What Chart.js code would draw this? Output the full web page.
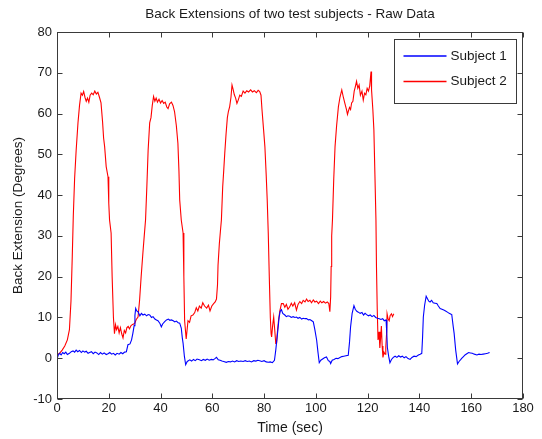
<!DOCTYPE html>
<html>
<head>
<meta charset="utf-8">
<script src="https://cdn.jsdelivr.net/npm/chart.js@4.4.1/dist/chart.umd.min.js"></script>
<style>
  body { margin: 0; background: #fff; }
  canvas { display: block; }
</style>
</head>
<body>
<canvas id="backChart" width="542" height="439"></canvas>
<script>
// Subject 1 (blue) - time in sec, extension in degrees
const time1 = [0, 0.5, 1, 1.6, 2.2, 2.8, 3.4, 4, 4.8, 5.5, 6.2, 6.8, 7.4, 8, 8.7, 9.4, 10, 10.7, 11.3, 12, 12.6, 13.3, 14, 14.7, 15.4, 16.1, 16.8, 17.5, 18.2, 19, 19.7, 20.4, 21.1, 21.8, 22.5, 23.2, 24, 24.7, 25.4, 26.1, 26.8, 27.4, 28.2, 28.8, 29.3, 29.8, 30.1, 30.4, 30.8, 31.3, 32, 32.6, 33.2, 33.9, 34.6, 35.2, 35.8, 36.5, 37.1, 37.8, 38.4, 39, 39.7, 40.3, 40.8, 41.6, 42.3, 43, 43.6, 44.2, 44.9, 45.5, 46.1, 46.8, 47.4, 48, 48.4, 48.7, 49.2, 49.7, 50.3, 51.3, 52, 52.7, 53.4, 54.1, 55, 55.8, 56.5, 57.3, 58, 58.8, 59.6, 60.3, 61, 61.6, 62.3, 63, 63.7, 64.4, 65.4, 66.2, 67, 67.8, 68.6, 69.4, 70.2, 71, 71.9, 72.7, 73.5, 74.3, 75.1, 76, 76.8, 77.6, 78.3, 79.1, 80, 80.8, 81.6, 82.4, 83.2, 84, 84.5, 85, 85.4, 85.8, 86.2, 86.7, 87.2, 88, 88.6, 89.2, 89.9, 90.5, 91.2, 91.9, 92.5, 93.1, 93.8, 94.5, 95.1, 95.8, 96.4, 97.1, 97.7, 98.4, 99, 99.6, 100.3, 100.8, 101.3, 101.9, 102.6, 103.3, 104.1, 104.8, 105.4, 105.7, 106.3, 107, 107.8, 108.5, 109.3, 110, 110.8, 111.6, 112.5, 113, 113.4, 114, 114.7, 115.2, 115.8, 116.4, 117.1, 117.8, 118.4, 119, 119.6, 120.3, 121, 121.7, 122.4, 123.1, 123.8, 124.5, 125.1, 125.8, 126.4, 127.1, 127.4, 127.6, 128.1, 128.6, 129.2, 129.9, 130.6, 131.3, 132, 132.7, 133.4, 134.1, 134.8, 135.6, 136.4, 137.1, 137.9, 138.7, 139.6, 140.3, 140.9, 141.2, 141.5, 142, 142.6, 143.1, 143.6, 144.1, 144.7, 145.3, 146, 146.7, 147.3, 148, 148.7, 149.4, 150.1, 150.8, 151.5, 152.2, 152.5, 153, 153.4, 154, 154.7, 155.3, 156, 156.4, 157, 157.6, 158.3, 159, 159.7, 160.4, 161.2, 162.2, 163, 163.8, 164.6, 165.5, 166.3, 167.1];
const ext1 = [-0.2, 0.8, 1.2, 0.8, 1.4, 1.1, 1.5, 0.9, 1.2, 1.6, 1.8, 1.5, 2, 1.6, 1.9, 1.4, 1.8, 1.5, 1.7, 1.2, 1.4, 1.6, 1.1, 1.5, 1.3, 0.9, 1.4, 1, 1.3, 0.9, 1.1, 1.4, 1, 1.2, 0.8, 1.2, 1, 1.4, 1.1, 1.5, 1.6, 3.3, 3.5, 4.5, 6.1, 8, 10.5, 12.2, 11.6, 11.4, 10.4, 11, 10.6, 10.8, 10.4, 10.7, 10.6, 10, 10.2, 9.6, 9.4, 9.2, 8.6, 7.7, 8.4, 9, 9.4, 9.6, 9.3, 9.4, 9.2, 8.9, 9.1, 8.7, 8.6, 7.4, 5, 3.7, 0.5, -1.6, -0.8, -0.4, -0.7, -0.3, -0.6, -0.2, -0.4, -0.6, -0.3, -0.5, -0.2, -0.5, -0.3, -0.4, -0.1, 0.2, -0.4, -0.5, -0.7, -0.8, -1, -0.8, -0.9, -0.7, -0.9, -0.6, -0.8, -0.7, -0.8, -0.6, -0.8, -0.7, -0.9, -0.6, -0.7, -0.5, -0.6, -0.8, -0.6, -0.9, -1, -0.9, -1.1, -0.5, 2, 5, 7.4, 10, 11.5, 11.9, 11, 10.6, 10.2, 10.4, 10.3, 10, 10.2, 10, 10.1, 9.8, 10, 9.6, 9.8, 9.7, 9.7, 9.4, 9.5, 9.2, 8.9, 7, 4.4, 1.5, -1.1, -0.5, -0.2, 0.1, 0.3, -0.6, -0.8, -1.3, -0.5, -0.3, 0, -0.1, 0.2, 0.4, 0.5, 0.6, 0.7, 4, 7.7, 11, 12.9, 12, 11.5, 11.3, 11, 11.2, 10.6, 11, 10.7, 10.4, 10.6, 10.2, 10.5, 10, 9.8, 9.7, 9.5, 9.7, 9.2, 9.4, 6, 2.7, 0.5, -1.1, -0.3, 0.2, 0.5, 0.2, 0.6, 0.3, 0.5, 0.1, 0.4, -0.1, -0.3, 0.2, 0.5, 0.4, 0.8, 1, 1.2, 5, 10.1, 13, 15.2, 14.6, 14, 13.8, 14.2, 13.6, 13.5, 13.4, 12.8, 12.2, 12, 11.8, 11.6, 11.3, 11, 10.8, 10.6, 8, 6.1, 2, -1.4, -0.8, -0.3, 0, 0.4, 0.8, 1.1, 1.4, 1.3, 1.2, 1, 0.8, 1, 0.9, 1, 1.1, 1.2, 1.4];

// Subject 2 (red)
const time2 = [0, 1, 2, 3, 4, 4.8, 5.4, 5.9, 6.3, 6.8, 7.4, 8.1, 8.7, 9.3, 9.8, 10.3, 10.8, 11.3, 11.8, 12.3, 12.8, 13.4, 14, 14.6, 15.2, 15.8, 16.4, 17, 17.6, 18, 18.4, 19, 19.7, 20, 20.3, 20.9, 21.3, 21.8, 22.2, 22.6, 23, 23.5, 24, 24.5, 25, 25.5, 26, 26.5, 27, 27.5, 28, 28.6, 29.2, 30, 30.6, 31.3, 31.9, 32.5, 33.2, 33.7, 34.2, 34.7, 35.2, 35.8, 36.3, 36.8, 37.3, 37.8, 38.3, 38.8, 39.4, 40, 40.6, 41.2, 41.8, 42.4, 42.9, 43.5, 44.2, 44.8, 45.4, 46.1, 46.7, 47.1, 47.4, 48, 48.7, 49, 49.3, 49.9, 50.6, 51.2, 51.8, 52.5, 53.2, 53.8, 54.4, 55, 55.7, 56.3, 57, 57.8, 58.5, 59.1, 59.8, 60.5, 61.1, 61.6, 62, 62.2, 62.7, 63.1, 63.5, 64, 64.4, 64.8, 65.3, 65.8, 66.2, 66.7, 67.2, 67.6, 68, 68.5, 69, 69.5, 70, 70.6, 71.2, 71.9, 72.6, 73.3, 74, 74.8, 75.5, 76.2, 77, 77.7, 78.3, 78.8, 79.2, 79.8, 80.3, 80.8, 81.2, 81.6, 82, 82.4, 82.7, 82.9, 83.3, 83.7, 84.1, 84.5, 84.8, 85.2, 85.6, 86.1, 86.7, 87.4, 88, 88.6, 89.2, 89.9, 90.5, 91.1, 91.8, 92.5, 93.1, 93.8, 94.5, 95.1, 95.8, 96.4, 97, 97.7, 98.3, 99, 99.6, 100.3, 101, 101.7, 102.3, 103, 103.7, 104.4, 105, 105.4, 105.7, 105.9, 106.1, 106.4, 106.9, 107.4, 108, 108.7, 109.3, 110, 110.6, 111.2, 111.8, 112.2, 112.5, 113, 113.4, 113.8, 114.3, 114.8, 115.2, 115.7, 116.2, 116.7, 117.2, 117.8, 118.3, 118.8, 119.3, 119.8, 120.3, 120.8, 121.3, 121.5, 122, 122.4, 122.8, 123.2, 123.4, 123.7, 124, 124.4, 124.7, 125, 125.3, 125.6, 125.9, 126.3, 126.7, 127, 127.3, 127.5, 127.9, 128.3, 128.7, 129.2, 129.6, 130.1];
const ext2 = [0.8, 1.2, 2, 3, 4.5, 7, 14, 25, 35, 44, 51, 57.7, 62, 65, 64.5, 65.4, 64, 63, 63.8, 62.8, 64.5, 65, 64.6, 65.5, 64.8, 65.2, 64, 62.6, 58, 54, 51.9, 47, 44.5, 38, 33.9, 30.7, 20, 10, 6, 8.2, 7, 7.8, 6.2, 7.5, 6, 5, 6.8, 6.2, 7.5, 7.8, 7.2, 8, 8.3, 8.5, 9.5, 10.1, 14.2, 20, 26, 30, 33.9, 42, 51, 57.7, 59, 62, 64.2, 63, 63.8, 62.8, 63.5, 62.6, 63.2, 62.5, 62.8, 61.6, 61.2, 62.4, 62.8, 62, 60.5, 57, 52.7, 46, 38.8, 33.9, 30.7, 20, 9.2, 4.7, 9.2, 8.8, 10.4, 10.6, 11.2, 12.4, 11.6, 12.8, 12.3, 13.6, 12.8, 12.3, 13, 11.6, 12.8, 13.4, 13.8, 14.5, 18, 22.8, 28, 31, 33.9, 42, 46, 50.3, 55, 59, 60.5, 61.7, 64, 67, 66, 64.6, 63.8, 62.5, 63.3, 64.5, 64.2, 65.5, 65, 65.6, 65.3, 65.8, 65.3, 65.6, 65.1, 65.7, 65.4, 64.5, 60.8, 56, 51.9, 45, 38.8, 30.7, 20, 10, 6, 5.2, 8, 10.1, 7, 3.6, 3.6, 7, 9.5, 11.7, 13.4, 13.4, 12.5, 13.2, 12, 12.6, 13.5, 12.8, 13.6, 11.8, 13.2, 13.9, 13.4, 14.2, 13.8, 14.5, 13.9, 14.2, 13.6, 14.3, 13.8, 14, 13.4, 14, 13.6, 13.9, 13.5, 13.8, 13.4, 11.4, 15, 22.5, 30, 33.9, 44, 51.9, 57, 61.7, 64, 65.8, 64, 62.5, 61, 59.8, 60.5, 61.5, 61, 62.6, 63, 65.5, 66.5, 67.9, 66.2, 67, 64.5, 65.5, 63.3, 65, 64.6, 66.2, 65.5, 66.8, 70.3, 65.8, 61, 56, 45, 33.9, 22.5, 12, 4.5, 6.5, 2.5, 5, 7.9, 3, 0.2, 1.5, 1, 2.7, 6, 10.9, 9.6, 9.2, 10.5, 10.9, 10.2, 10.9];

const seriesNames = ['Subject 1', 'Subject 2'];
const xTicks = [0, 20, 40, 60, 80, 100, 120, 140, 160, 180];
const yTicks = [-10, 0, 10, 20, 30, 40, 50, 60, 70, 80];

function toPoints(xs, ys) {
  return xs.map((t, i) => ({ x: t, y: ys[i] }));
}

Chart.defaults.font.family = "'Liberation Sans', Arial, Helvetica, sans-serif";
Chart.defaults.color = '#1a1a1a';

// box round the plot, inward tick marks, and the boxed legend (matlab look)
const matlabFrame = {
  id: 'matlabFrame',
  afterDraw(chart) {
    const { ctx, chartArea: a, scales: { x, y } } = chart;
    const L = Math.round(a.left) + 0.5, R = Math.round(a.right) - 0.5;
    const T = Math.round(a.top) + 0.5, B = Math.round(a.bottom) - 0.5;
    ctx.save();
    ctx.strokeStyle = '#3a3a3a';
    ctx.lineWidth = 1;
    ctx.strokeRect(L, T, R - L, B - T);

    ctx.beginPath();
    xTicks.forEach(v => {
      const px = Math.round(x.getPixelForValue(v)) + 0.5;
      ctx.moveTo(px, B); ctx.lineTo(px, B - 5);
      ctx.moveTo(px, T); ctx.lineTo(px, T + 5);
    });
    yTicks.forEach(v => {
      const py = Math.round(y.getPixelForValue(v)) + 0.5;
      ctx.moveTo(L, py); ctx.lineTo(L + 5, py);
      ctx.moveTo(R, py); ctx.lineTo(R - 5, py);
    });
    ctx.stroke();

    // legend
    const bw = 122, bh = 64;
    const bx = R - 6 - bw, by = T + 7;
    ctx.fillStyle = '#fff';
    ctx.fillRect(bx, by, bw, bh);
    ctx.strokeRect(bx, by, bw, bh);
    ctx.font = "13.5px 'Liberation Sans', Arial, sans-serif";
    ctx.textBaseline = 'middle';
    chart.data.datasets.forEach((ds, i) => {
      const ly = by + 16.5 + i * 25.5;
      ctx.strokeStyle = ds.borderColor;
      ctx.lineWidth = 1.3;
      ctx.beginPath();
      ctx.moveTo(bx + 9, ly); ctx.lineTo(bx + 52, ly);
      ctx.stroke();
      ctx.fillStyle = '#1a1a1a';
      ctx.fillText(ds.label, bx + 56, ly);
    });
    ctx.restore();
  }
};

const backChart = new Chart(document.getElementById('backChart'), {
  type: 'scatter',
  data: {
    datasets: [{
      label: seriesNames[0],
      data: toPoints(time1, ext1),
      borderColor: '#0000ff',
      borderWidth: 1.1,
      showLine: true,
      pointRadius: 0,
      tension: 0
    }, {
      label: seriesNames[1],
      data: toPoints(time2, ext2),
      borderColor: '#ff0000',
      borderWidth: 1.1,
      showLine: true,
      pointRadius: 0,
      tension: 0
    }]
  },
  options: {
    responsive: false,
    animation: false,
    layout: { padding: { left: 0, right: 19, top: 0, bottom: 0 } },
    scales: {
      x: {
        type: 'linear',
        min: 0,
        max: 180,
        afterBuildTicks: s => { s.ticks = xTicks.map(v => ({ value: v })); },
        afterFit: s => { s.height = 40; },
        grid: { display: false, drawTicks: false, tickLength: 0 },
        border: { display: false },
        ticks: { padding: 2, font: { size: 13 }, color: '#1a1a1a' },
        title: {
          display: true,
          text: 'Time (sec)',
          font: { size: 14 },
          padding: { top: 0, bottom: 2.5 }
        }
      },
      y: {
        type: 'linear',
        min: -10,
        max: 80,
        afterBuildTicks: s => { s.ticks = yTicks.map(v => ({ value: v })); },
        afterFit: s => { s.width = 57; },
        grid: { display: false, drawTicks: false, tickLength: 0 },
        border: { display: false },
        ticks: { padding: 5, font: { size: 13 }, color: '#1a1a1a' },
        title: {
          display: true,
          text: 'Back Extension (Degrees)',
          font: { size: 13.5 },
          padding: { top: 10.5, bottom: 0 }
        }
      }
    },
    plugins: {
      legend: { display: false },
      tooltip: { enabled: false },
      title: {
        display: true,
        fullSize: false,
        text: 'Back Extensions of two test subjects - Raw Data',
        font: { size: 13.5, weight: 'normal' },
        color: '#1a1a1a',
        padding: { top: 6.5, bottom: 9.3 }
      }
    }
  },
  plugins: [matlabFrame]
});
</script>
</body>
</html>
